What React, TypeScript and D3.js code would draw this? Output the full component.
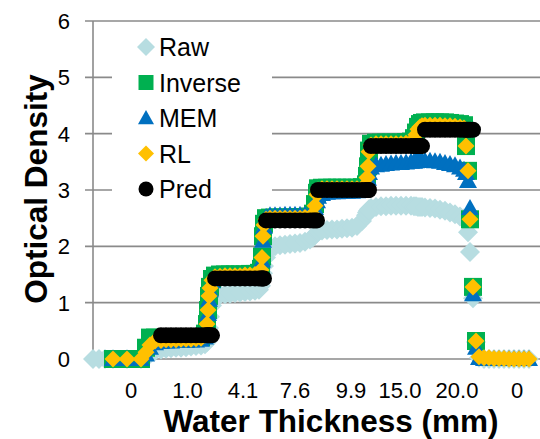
import React from "react";
import * as d3 from "d3";

// Detector sample positions along the profile (sample index)
const sampleIdx = [
  0, 6, 12, 20, 34, 48, 53, 57, 62, 68,
  73, 78, 83, 88, 93, 98, 103, 108, 112, 114,
  115, 116, 117, 119, 122, 127, 132, 137, 142, 147,
  152, 157, 162, 166, 168, 169, 170, 171, 173, 177,
  182, 187, 192, 197, 202, 207, 212, 217, 220, 222,
  224, 225, 229, 234, 239, 244, 249, 254, 259, 264,
  269, 273, 274, 275, 276, 278, 283, 288, 293, 298,
  303, 308, 313, 318, 321, 323, 325, 327, 329, 332,
  337, 342, 347, 352, 357, 362, 367, 371, 373, 375,
  377, 380, 383, 386, 391, 396, 401, 406, 411, 416,
  421, 426, 431, 436,
];

const raw: (number | null)[] = [
  0, 0, 0, 0, 0, 0, 0.04, 0.09, 0.14, 0.17,
  0.18, 0.19, 0.2, 0.2, 0.21, 0.22, 0.23, 0.24, 0.26, 0.3,
  0.4, 0.55, 0.75, 0.95, 1.1, 1.14, 1.15, 1.16, 1.17, 1.18,
  1.19, 1.2, 1.21, 1.23, 1.3, 1.4, 1.52, 1.65, 1.8, 1.95,
  2.0, 2.02, 2.03, 2.04, 2.05, 2.06, 2.08, 2.12, 2.16, 2.2,
  2.24, 2.26, 2.28, 2.29, 2.3, 2.3, 2.31, 2.32, 2.33, 2.36,
  2.45, 2.55, 2.6, 2.63, 2.66, 2.68, 2.7, 2.71, 2.71, 2.72,
  2.72, 2.72, 2.72, 2.72, 2.71, 2.71, 2.7, 2.7, 2.7, 2.69,
  2.68, 2.67, 2.65, 2.63, 2.6, 2.57, 2.53, 2.5, 2.45, 2.25,
  1.9, 1.08, 0.3, 0.02, 0, 0, 0, 0, 0, 0,
  0, 0, 0, 0,
];

const inverse: (number | null)[] = [
  null, null, null, 0, 0, 0, 0.2, 0.38, 0.38, 0.37,
  0.37, 0.37, 0.38, 0.38, 0.38, 0.39, 0.39, 0.39, 0.45, 0.62,
  0.87, 1.12, 1.28, 1.42, 1.48, 1.5, 1.5, 1.5, 1.5, 1.5,
  1.5, 1.51, 1.51, 1.53, 1.6, 1.82, 2.18, 2.4, 2.5, 2.51,
  2.51, 2.51, 2.51, 2.51, 2.51, 2.52, 2.52, 2.53, 2.58, 2.75,
  2.95, 3.03, 3.04, 3.04, 3.04, 3.04, 3.04, 3.04, 3.04, 3.04,
  3.05, 3.1, 3.25, 3.42, 3.7, 3.82, 3.84, 3.84, 3.84, 3.84,
  3.84, 3.84, 3.85, 3.86, 3.92, 4.02, 4.12, 4.17, 4.19, 4.2,
  4.2, 4.2, 4.2, 4.2, 4.19, 4.18, 4.17, 4.15, 3.78, 3.34,
  2.48, 1.28, 0.32, null, null, null, null, null, null, null,
  null, null, null, null,
];

const mem: (number | null)[] = [
  null, null, null, 0, 0, 0, 0.08, 0.2, 0.28, 0.3,
  0.31, 0.31, 0.32, 0.32, 0.32, 0.33, 0.33, 0.34, 0.38, 0.55,
  0.8, 1.05, 1.22, 1.38, 1.44, 1.45, 1.46, 1.46, 1.47, 1.47,
  1.47, 1.48, 1.48, 1.5, 1.56, 1.75, 2.1, 2.35, 2.52, 2.55,
  2.55, 2.55, 2.56, 2.56, 2.56, 2.56, 2.56, 2.57, 2.58, 2.68,
  2.8, 2.88, 2.93, 2.95, 2.96, 2.96, 2.97, 2.97, 2.97, 2.98,
  3.0, 3.05, 3.12, 3.2, 3.3, 3.4, 3.44, 3.45, 3.46, 3.47,
  3.48, 3.48, 3.49, 3.5, 3.5, 3.51, 3.52, 3.52, 3.52, 3.52,
  3.52, 3.51, 3.5, 3.48, 3.46, 3.44, 3.4, 3.36, 3.3, 3.16,
  2.68, 1.15, 0.2, 0.02, 0, 0, 0, 0, 0, 0,
  0, 0, 0, 0,
];

const rl: (number | null)[] = [
  null, null, null, 0, 0, 0, 0.12, 0.25, 0.32, 0.33,
  0.34, 0.34, 0.34, 0.35, 0.35, 0.35, 0.36, 0.37, 0.42, 0.62,
  0.87, 1.12, 1.26, 1.4, 1.46, 1.47, 1.48, 1.48, 1.48, 1.48,
  1.49, 1.49, 1.5, 1.52, 1.58, 1.8, 2.18, 2.38, 2.48, 2.5,
  2.5, 2.5, 2.5, 2.5, 2.5, 2.5, 2.51, 2.52, 2.56, 2.72,
  2.92, 3.0, 3.02, 3.02, 3.02, 3.02, 3.02, 3.02, 3.02, 3.02,
  3.03, 3.08, 3.22, 3.42, 3.68, 3.8, 3.82, 3.82, 3.82, 3.82,
  3.82, 3.82, 3.83, 3.84, 3.9, 3.98, 4.08, 4.12, 4.14, 4.15,
  4.15, 4.15, 4.15, 4.14, 4.14, 4.13, 4.12, 4.1, 3.78, 3.34,
  2.48, 1.28, 0.32, 0.04, 0.02, 0.02, 0.01, 0.01, 0.01, 0,
  0, 0, 0, 0,
];

const pred: (number | null)[] = [
  null, null, null, null, null, null, null, null, null, 0.42,
  0.42, 0.42, 0.42, 0.42, 0.42, 0.42, 0.42, 0.42, 0.42, 0.42,
  0.42, 0.42, 0.42, 0.42, 1.43, 1.43, 1.43, 1.43, 1.43, 1.43,
  1.43, 1.43, 1.43, 1.43, 1.43, 1.43, 1.43, 1.43, 2.46, 2.46,
  2.46, 2.46, 2.46, 2.46, 2.46, 2.46, 2.46, 2.46, 2.46, 2.46,
  2.46, 3.0, 3.0, 3.0, 3.0, 3.0, 3.0, 3.0, 3.0, 3.0,
  3.0, 3.0, 3.0, 3.0, 3.0, 3.78, 3.78, 3.78, 3.78, 3.78,
  3.78, 3.78, 3.78, 3.78, 3.78, 3.78, 3.78, 3.78, 3.78, 4.07,
  4.07, 4.07, 4.07, 4.07, 4.07, 4.07, 4.07, 4.07, 4.07, 4.07,
  4.07, 4.07, null, null, null, null, null, null, null, null,
  null, null, null, null,
];

// Category labels (water thickness, mm) and the samples they sit under
const tickIdx = [38, 94.5, 150, 202, 258, 307, 364, 424];
const tickLabels = ["0", "1.0", "4.1", "7.6", "9.9", "15.0", "20.0", "0"];
const yTicks = [0, 1, 2, 3, 4, 5, 6];

const seriesNames = ["Raw", "Inverse", "MEM", "RL", "Pred"];
const seriesColors = ["#B7DDE1", "#00B050", "#0070C0", "#FFC000", "#000000"];

const W = 540;
const H = 439;
const FONT = "'Liberation Sans', Arial, Helvetica, sans-serif";
const GRID = "#8A8A8A";

const x = d3.scaleLinear().domain([0, 445]).range([93, 538]);
const y = d3.scaleLinear().domain([0, 6]).range([359, 21]);

type Shape = "diamond" | "square" | "triangle" | "circle";

function markerPath(shape: Shape, size: number): string {
  const r = size / 2;
  if (shape === "diamond") return `M0,${-r}L${r},0L0,${r}L${-r},0Z`;
  if (shape === "square") return `M${-r},${-r}H${r}V${r}H${-r}Z`;
  if (shape === "triangle") return `M0,${-r}L${r},${r * 0.78}L${-r},${r * 0.78}Z`;
  const p = d3.path();
  p.arc(0, 0, r, 0, Math.PI * 2);
  p.closePath();
  return p.toString();
}

const seriesData = [raw, inverse, mem, rl, pred];
const seriesShapes: Shape[] = ["diamond", "square", "triangle", "diamond", "circle"];
const chartSizes = [20, 18, 18, 17, 16];
const legendSizes = [18, 15, 16, 16, 15];

export default function App() {
  const xMin = x.range()[0];
  return (
    <svg
      width={W}
      height={H}
      style={{ position: "absolute", left: 0, top: 0, background: "#fff" }}
      fontFamily={FONT}
    >
      {/* gridlines and y ticks */}
      {yTicks.map((t) => (
        <g key={`g${t}`}>
          <line x1={85} x2={W} y1={y(t)} y2={y(t)} stroke={GRID} strokeWidth={1.6} />
          <text x={70} y={y(t) + 8} textAnchor="end" fontSize={22} fill="#000">
            {t}
          </text>
        </g>
      ))}
      {/* vertical axis */}
      <line x1={xMin} x2={xMin} y1={y(6)} y2={y(0)} stroke={GRID} strokeWidth={1.6} />

      {/* category labels */}
      {tickIdx.map((t, i) => (
        <text key={`xt${i}`} x={x(t)} y={398} textAnchor="middle" fontSize={22} fill="#000">
          {tickLabels[i]}
        </text>
      ))}

      {/* series markers */}
      {seriesData.map((vals, si) => {
        const d = markerPath(seriesShapes[si], chartSizes[si]);
        return (
          <g key={`s${si}`} fill={seriesColors[si]}>
            {vals.map((v, i) =>
              v === null ? null : (
                <path key={i} d={d} transform={`translate(${x(sampleIdx[i])},${y(v)})`} />
              )
            )}
          </g>
        );
      })}

      {/* axis titles */}
      <text x={331} y={432} textAnchor="middle" fontSize={31.5} fontWeight="bold" fill="#000">
        Water Thickness (mm)
      </text>
      <text
        transform="translate(47,189) rotate(-90)"
        textAnchor="middle"
        fontSize={31.5}
        fontWeight="bold"
        fill="#000"
      >
        Optical Density
      </text>

      {/* legend */}
      <rect x={112} y={28} width={160} height={177} fill="#fff" />
      {seriesNames.map((name, i) => {
        const cy = 47 + i * 35.5;
        return (
          <g key={`l${i}`}>
            <path
              d={markerPath(seriesShapes[i], legendSizes[i])}
              transform={`translate(146,${cy})`}
              fill={seriesColors[i]}
            />
            <text x={159} y={cy + 9} fontSize={25} fill="#000">
              {name}
            </text>
          </g>
        );
      })}
    </svg>
  );
}
